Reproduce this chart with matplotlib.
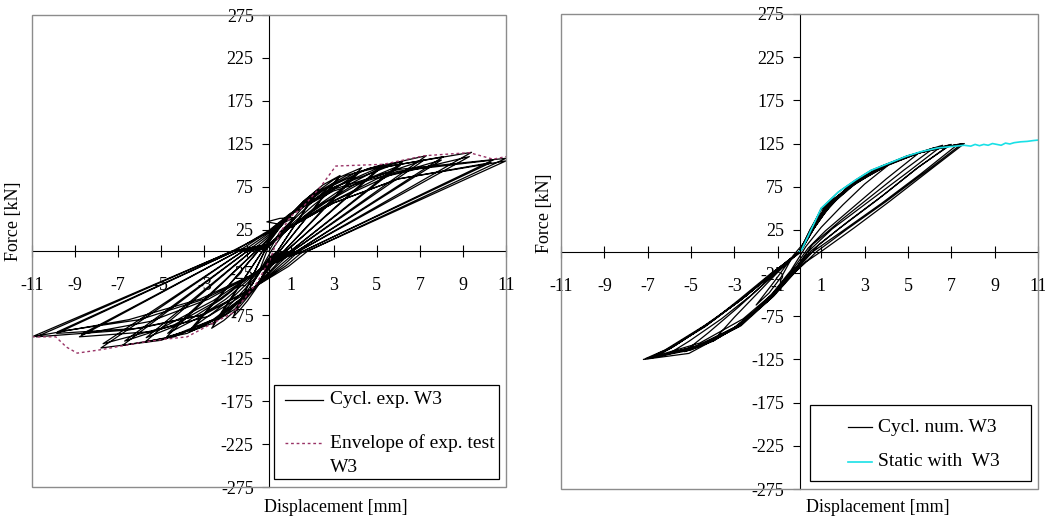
#
# Force-displacement curves of wall W3 : experiment (left) and model (right)
#
import numpy as np
import matplotlib
matplotlib.use('Agg')
import matplotlib.pyplot as plt
from matplotlib.patches import Rectangle
from matplotlib.lines import Line2D

plt.rcParams['font.family'] = ['Liberation Serif', 'DejaVu Serif']
plt.rcParams['axes.unicode_minus'] = False

# ---- data ----
x_ticks = [-11, -9, -7, -5, -3, -1, 1, 3, 5, 7, 9, 11]
y_ticks = [-275, -225, -175, -125, -75, -25, 25, 75, 125, 175, 225, 275]

# cyclic test, one continuous path (mm / kN), one line per cycle
disp_exp = [
    0.0, 0.5, 1.2, 0.5, -0.1, 0.5, 1.2, 0.6, 0.1, -0.4, -0.8, -0.4, -0.1,
    0.0, 0.5, 1.0, 1.6, 2.3, 1.35, 0.4, 0.0, -0.5, -1.0, -1.4, -1.67, -0.94, -0.2,
    0.0, 0.5, 1.0, 1.6, 2.2, 1.3, 0.4, 0.0, -0.5, -1.0, -1.4, -1.6, -0.9, -0.2,
    0.0, 0.8, 1.7, 2.5, 3.3, 1.9, 0.5, 0.1, -0.6, -1.4, -2.1, -2.66, -1.48, -0.3,
    0.0, 0.8, 1.7, 2.5, 3.2, 1.85, 0.5, 0.1, -0.6, -1.4, -2.1, -2.6, -1.45, -0.3,
    0.0, 1.0, 2.0, 3.0, 4.3, 2.5, 0.7, 0.2, -0.7, -1.6, -2.6, -3.67, -2.09, -0.5,
    0.0, 1.0, 2.0, 3.0, 4.2, 2.45, 0.7, 0.2, -0.7, -1.6, -2.6, -3.6, -2.05, -0.5,
    0.0, 1.0, 2.2, 3.6, 5.3, 3.05, 0.8, 0.3, -0.8, -2.0, -3.3, -4.75, -2.68, -0.6,
    0.0, 1.0, 2.2, 3.6, 5.2, 3.0, 0.8, 0.3, -0.8, -2.0, -3.3, -4.7, -2.65, -0.6,
    0.0, 1.0, 2.4, 4.0, 6.2, 3.6, 1.0, 0.4, -0.8, -2.2, -3.8, -5.75, -3.28, -0.8,
    0.0, 1.0, 2.4, 4.0, 6.1, 3.55, 1.0, 0.4, -0.8, -2.2, -3.8, -5.7, -3.25, -0.8,
    0.0, 1.0, 2.6, 4.6, 7.3, 4.2, 1.1, 0.5, -0.8, -2.4, -4.4, -6.8, -3.9, -1.0,
    0.0, 1.0, 2.6, 4.6, 7.2, 4.15, 1.1, 0.5, -0.8, -2.4, -4.4, -6.7, -3.85, -1.0,
    0.0, 1.0, 2.8, 5.0, 8.1, 4.7, 1.3, 0.6, -0.8, -2.6, -5.0, -7.8, -4.5, -1.2,
    0.0, 1.0, 2.8, 5.0, 8.0, 4.65, 1.3, 0.6, -0.8, -2.6, -5.0, -7.7, -4.45, -1.2,
    0.0, 1.0, 3.0, 5.6, 9.4, 5.4, 1.4, 0.7, -0.8, -2.8, -5.5, -8.8, -5.1, -1.4,
    0.0, 1.0, 3.0, 5.6, 9.3, 5.35, 1.4, 0.7, -0.8, -2.8, -5.5, -8.7, -5.05, -1.4,
    0.0, 1.0, 3.0, 6.0, 10.4, 6.0, 1.6, 0.8, -0.8, -3.0, -6.0, -9.85, -5.73, -1.6,
    0.0, 1.0, 3.0, 6.0, 10.3, 5.95, 1.6, 0.8, -0.8, -3.0, -6.0, -9.8, -5.7, -1.6,
    0.0, 1.0, 3.0, 6.0, 11.0, 6.4, 1.8, 0.9, -0.8, -3.2, -6.5, -10.8, -6.25, -1.7,
    0.0, 1.0, 3.0, 6.0, 11.0, 6.4, 1.8, 0.9, -0.8, -3.2, -6.5, -11.0, -6.35, -1.7, 0.0, 1.0,
]
force_exp = [
    0, 22, 39, 38, 34, 31, 39, 18, 0, -22, -40, -20, 0,
    10, 27, 42, 58, 72, 36, 0, -12, -40, -58, -70, -77, -38.5, 0,
    6, 20, 34, 52, 68, 34, 0, -8, -28, -46, -62, -72, -36, 0,
    12, 38, 60, 77, 88, 44, 0, -12, -42, -66, -81, -90, -45, 0,
    6, 28, 50, 68, 84, 42, 0, -6, -30, -52, -70, -86, -43, 0,
    13, 42, 65, 83, 97, 48.5, 0, -12, -44, -68, -84, -94, -47, 0,
    6, 30, 52, 72, 92, 46, 0, -6, -30, -52, -72, -90, -45, 0,
    14, 42, 68, 88, 101, 50.5, 0, -12, -46, -74, -90, -100, -50, 0,
    6, 28, 52, 76, 97, 48.5, 0, -6, -30, -56, -78, -96, -48, 0,
    15, 42, 70, 91, 104, 52, 0, -14, -46, -76, -96, -106, -53, 0,
    6, 28, 54, 78, 100, 50, 0, -6, -28, -56, -82, -101, -50.5, 0,
    17, 42, 72, 96, 111, 55.5, 0, -14, -46, -78, -100, -110, -55, 0,
    6, 28, 56, 84, 106, 53, 0, -6, -28, -58, -86, -105, -52.5, 0,
    19, 42, 72, 96, 110, 55, 0, -15, -46, -80, -104, -113, -56.5, 0,
    6, 28, 56, 84, 106, 53, 0, -6, -28, -58, -90, -108, -54, 0,
    21, 43, 74, 99, 115, 57.5, 0, -16, -45, -76, -94, -100, -50, 0,
    8, 28, 58, 88, 110, 55, 0, -6, -28, -56, -82, -97, -48.5, 0,
    23, 43, 70, 93, 106, 53, 0, -17, -44, -74, -90, -96, -48, 0,
    8, 28, 56, 84, 103, 51.5, 0, -6, -28, -56, -80, -94, -47, 0,
    24, 44, 72, 95, 108, 54, 0, -18, -44, -75, -92, -100, -50, 0,
    8, 28, 56, 84, 105, 52.5, 0, -6, -28, -56, -80, -100, -50, 0, 22, 40,
]

# envelope of the experimental test
disp_env = [-11.0, -9.9, -9.4, -8.9, -7.8, -5.8, -4.9, -3.8, -2.9, -1.67,
            -0.56, 0.05, 0.5, 1.0, 1.6, 2.4, 3.1, 5.3, 7.2, 9.3, 10.4, 11.0]
force_env = [-100, -100, -112, -119, -115, -106, -103, -100, -88, -72,
             -37, -10, 21, 40, 52, 75, 99, 101, 111, 114.6, 107, 110]

# numerical cyclic model, one continuous path
disp_num = [
    0.0, 0.5, 1.0, 1.5, 2.0, 1.0, 0.2, -0.3, -0.8, -1.4, -2.0, -1.2, -0.5, 0.0,
    0.5, 1.2, 2.2, 3.2, 4.1, 3.0, 2.0, 1.0, 0.3, -0.4, -1.3, -2.6, -4.0, -3.0, -2.0, -1.0, 0.0,
    0.5, 1.2, 2.4, 3.8, 5.5, 4.0, 2.6, 1.2, 0.4, -0.4, -1.4, -2.8, -4.0, -5.3, -4.2, -2.8, -1.4, 0.0,
    0.55, 1.0, 1.8, 2.6, 3.3, 4.1, 4.9, 5.6, 6.4, 7.6, 6.0, 4.1, 2.5, 1.0, 0.3,
    -0.4, -1.3, -2.8, -5.1, -7.2, -6.5, -4.35, -2.8, -1.3, 0.0,
    0.6, 1.4, 2.6, 4.0, 5.3, 6.6, 5.0, 3.2, 1.5, 0.4, -0.4, -1.5, -3.0, -4.8, -6.65,
    -5.5, -4.0, -2.5, -1.0, 0.1,
    0.7, 1.5, 2.7, 4.0, 5.5, 7.3, 5.6, 3.8, 2.0, 0.4, -0.3, -1.4, -3.0, -5.0, -7.0,
    -6.0, -4.2, -2.6, -1.2, 0.0,
    0.6, 1.3, 2.5, 3.8, 5.3, 7.5, 5.8, 4.0, 2.2, 0.8, -0.2, -1.2, -2.7, -4.8, -7.1,
    -6.2, -4.4, -2.8, -1.3, 0.0,
    0.6, 1.4, 2.6, 4.0, 5.5, 6.9, 5.4, 3.6, 1.8, 0.5, -0.3, -1.4, -2.9, -4.9, -6.8,
    -5.8, -4.0, -2.4, -1.0, 0.0,
    0.6, 1.2, 2.3, 3.6, 5.0, 7.0, 5.5, 3.9, 2.2, 0.9, -0.1, -1.1, -2.6, -4.6, -6.9,
    -6.0, -4.3, -2.7, -1.2, 0.0,
    0.5, 1.2, 2.4, 3.7, 4.9, 6.2, 4.8, 3.4, 1.9, 0.6, -0.3, -1.3, -2.7, -4.3, -6.0,
    -5.1, -3.6, -2.2, -0.9, 0.0,
]
force_num = [
    0, 26, 48, 60, 68, 40, 10, -5, -28, -48, -62, -36, -12, 0,
    24, 50, 72, 88, 100, 78, 54, 28, 6, -22, -50, -82, -104, -76, -50, -24, 0,
    25, 52, 78, 98, 114, 84, 54, 24, 4, -24, -54, -86, -104, -116, -94, -64, -32, 0,
    26, 50, 69, 83, 94, 102, 110, 115, 120, 125, 94, 57, 27, 0, -12,
    -28, -52, -87, -118, -125, -120, -87, -56, -25, -2,
    24, 54, 80, 100, 113, 123, 92, 58, 26, 0, -28, -58, -88, -110, -122,
    -105, -80, -52, -20, 2,
    28, 56, 82, 100, 114, 124, 90, 56, 24, -4, -22, -55, -88, -114, -124,
    -112, -84, -54, -24, 0,
    26, 54, 80, 99, 113, 125, 92, 58, 26, 0, -24, -52, -84, -112, -124,
    -114, -86, -58, -27, 0,
    25, 53, 79, 99, 114, 123, 96, 60, 26, 0, -26, -56, -88, -112, -123,
    -110, -80, -50, -20, 0,
    24, 50, 76, 96, 111, 124, 98, 66, 34, 8, -20, -46, -78, -106, -123,
    -113, -85, -56, -26, 0,
    24, 51, 77, 96, 109, 120, 94, 66, 36, 8, -24, -54, -86, -106, -118,
    -104, -78, -50, -20, 0,
]

# static pushover analysis
disp_static = [0.0, 0.1, 0.55, 1.0, 1.8, 2.6, 3.3, 4.1, 4.9, 5.6, 6.4, 7.2, 7.6,
               7.9, 8.1, 8.3, 8.5, 8.7, 8.9, 9.1, 9.3, 9.5, 9.7, 9.9, 10.2, 10.5,
               10.8, 11.0]
force_static = [0, 2, 26, 50, 69, 83, 94, 102, 110, 115.6, 120, 122, 123,
                122, 124, 122.5, 124, 123, 125, 124, 123, 125.5, 124.5, 126, 127,
                127.5, 128.5, 129]

W, H = 1045, 518
fig = plt.figure(figsize=(W / 100, H / 100), dpi=100)


def setup(ax, xlab_pos, ylab_pos):
    ax.set_xlim(-11, 11)
    ax.set_ylim(-275, 275)
    ax.set_axisbelow(True)
    ax.spines['left'].set_position(('data', 0))
    ax.spines['bottom'].set_position(('data', 0))
    ax.spines['top'].set_visible(False)
    ax.spines['right'].set_visible(False)
    for s in ('left', 'bottom'):
        ax.spines[s].set_color('black')
        ax.spines[s].set_linewidth(0.8)
    ax.add_patch(Rectangle((0, 0), 1, 1, transform=ax.transAxes, fill=False,
                           edgecolor='#8c8c8c', lw=1.0, zorder=2.6, clip_on=False))
    ax.set_xticks(x_ticks)
    ax.set_yticks(y_ticks)
    ax.tick_params(axis='x', direction='inout', length=8, width=0.8, pad=15, labelsize=13)
    ax.tick_params(axis='y', direction='out', length=5, width=0.8, pad=6, labelsize=13)
    ax.set_xlabel('Displacement [mm]', fontsize=13)
    ax.xaxis.set_label_coords(*xlab_pos)
    ax.set_ylabel('Force [kN]', fontsize=13)
    ax.yaxis.set_label_coords(*ylab_pos)


def legend_box(x0, y0, x1, y1):
    fig.add_artist(Rectangle((x0 / W, 1 - y1 / H), (x1 - x0) / W, (y1 - y0) / H,
                             transform=fig.transFigure, facecolor='white',
                             edgecolor='black', lw=0.9, zorder=5))


def legend_line(x0, x1, y, **kw):
    fig.add_artist(Line2D([x0 / W, x1 / W], [1 - y / H, 1 - y / H],
                          transform=fig.transFigure, zorder=6, **kw))


def legend_text(x, y, s):
    fig.text(x / W, 1 - y / H, s, ha='left', va='center', fontsize=14, zorder=7)


# left: experiment
ax1 = fig.add_axes([32 / W, 1 - 487 / H, 474 / W, 472 / H])
setup(ax1, (0.641, -0.025), (-0.021, 0.564))
ax1.plot(disp_exp, force_exp, color='black', lw=0.9)
ax1.plot(disp_env, force_env, color='#993366', lw=1.0, linestyle=(0, (2, 2)))

legend_box(274, 385, 499, 479)
legend_line(285, 323, 400, color='black', lw=0.9)
legend_text(330, 400, 'Cycl. exp. W3')
legend_line(285, 323, 443, color='#993366', lw=1.0, linestyle=(0, (2, 2)))
legend_text(330, 443, 'Envelope of exp. test')
legend_text(330, 468, 'W3')

# right: numerical model
ax2 = fig.add_axes([561 / W, 1 - 489 / H, 477 / W, 475 / H])
setup(ax2, (0.665, -0.021), (-0.017, 0.581))
ax2.plot(disp_num, force_num, color='black', lw=0.9)
ax2.plot(disp_static, force_static, color='#19E0E6', lw=1.2)

legend_box(810, 405, 1031, 481)
legend_line(848, 872, 427, color='black', lw=0.9)
legend_text(878, 427, 'Cycl. num. W3')
legend_line(848, 872, 462, color='#19E0E6', lw=1.2)
legend_text(878, 462, 'Static with  W3')

fig.savefig('out.png', dpi=100)
